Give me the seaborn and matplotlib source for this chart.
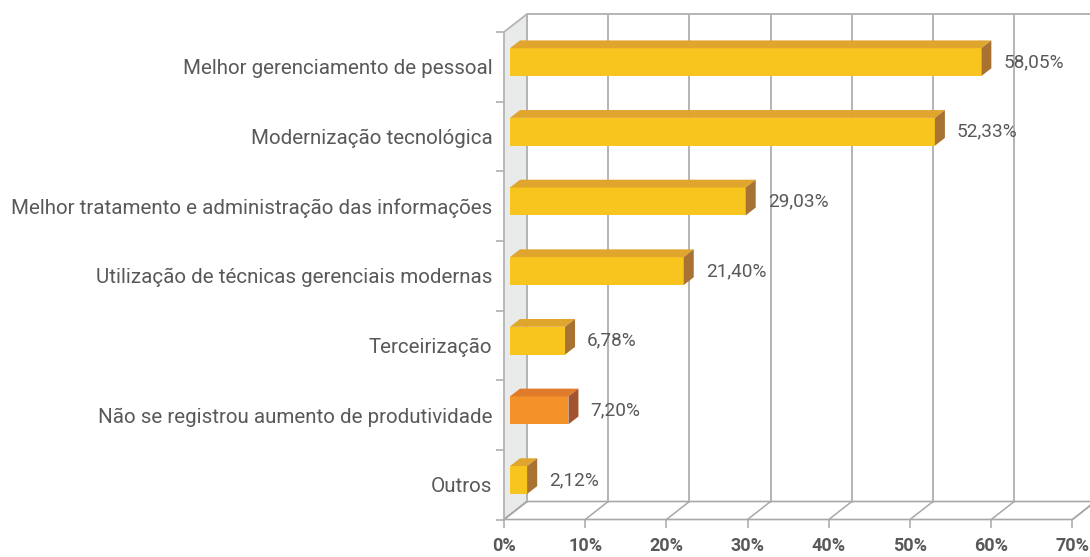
import matplotlib
matplotlib.use("Agg")
import matplotlib.pyplot as plt
import seaborn as sns
import pandas as pd
from matplotlib import font_manager
from matplotlib.patches import Polygon, Rectangle

# ---------------- data ----------------
categories = [
    "Melhor gerenciamento de pessoal",
    "Modernização tecnológica",
    "Melhor tratamento e administração das informações",
    "Utilização de técnicas gerenciais modernas",
    "Terceirização",
    "Não se registrou aumento de produtividade",
    "Outros",
]
values = [58.05, 52.33, 29.03, 21.40, 6.78, 7.20, 2.12]
value_labels = ["58,05%", "52,33%", "29,03%", "21,40%", "6,78%", "7,20%", "2,12%"]
x_ticks = [0, 10, 20, 30, 40, 50, 60, 70]
x_tick_labels = ["0%", "10%", "20%", "30%", "40%", "50%", "60%", "70%"]

# ---------------- style ----------------
sns.set_theme(style="white")
available = {f.name for f in font_manager.fontManager.ttflist}
family = "Liberation Sans Narrow" if "Liberation Sans Narrow" in available else "Roboto"
plt.rcParams["font.family"] = [family, "DejaVu Sans"]

front_col = ["#F8C51E"] * len(categories)
top_col = ["#DFA52D"] * len(categories)
side_col = ["#A87232"] * len(categories)
front_col[5], top_col[5], side_col[5] = "#F29229", "#E07B2C", "#A3542E"
text_col = "#59595B"
grid_col = "#B4B4B4"

W, H = 1090, 557
fig = plt.figure(figsize=(W / 100, H / 100), dpi=100)
fig.patch.set_facecolor("white")

# front plane of the 3D box (pixels): x 504..1072.4 (0..70), y 32..519.5
px_per_pct = 8.12
ax = fig.add_axes([504 / W, 37.5 / H, 70 * px_per_pct / W, 487.5 / H])
ax.set_facecolor("none")

df = pd.DataFrame({"cat": categories, "val": values})
sns.barplot(data=df, x="val", y="cat", hue="cat", palette=front_col,
            orient="h", width=0.40, legend=False, ax=ax, zorder=5,
            linewidth=0, saturation=1)
bar_patches = [p for p in ax.patches if isinstance(p, Rectangle)]
bar_patches = sorted(bar_patches, key=lambda p: p.get_y())

ax.set_xlim(0, 70)
ax.set_ylim(len(categories) - 0.5, -0.5)
for s in ax.spines.values():
    s.set_visible(False)

# depth of the box in data units
px_per_cat = 487.5 / len(categories)
DX = 23 / px_per_pct
DY = -18 / px_per_cat
y_bot, y_top = len(categories) - 0.5, -0.5

# left wall
ax.add_patch(Polygon([(0, y_bot), (0, y_top), (DX, y_top + DY), (DX, y_bot + DY)],
                     closed=True, facecolor="#E9EBEB", edgecolor=grid_col,
                     linewidth=1.3, clip_on=False, zorder=1))
# floor
ax.add_patch(Polygon([(0, y_bot), (70, y_bot), (70 + DX, y_bot + DY), (DX, y_bot + DY)],
                     closed=True, facecolor="white", edgecolor="#A8A8A8",
                     linewidth=1.2, clip_on=False, zorder=1))
# back wall grid + floor slants
for t in x_ticks:
    ax.plot([t + DX, t + DX], [y_bot + DY, y_top + DY], color=grid_col, lw=1.4,
            clip_on=False, zorder=1)
    ax.plot([t, t + DX], [y_bot, y_bot + DY], color="#A8A8A8", lw=1.1,
            clip_on=False, zorder=1)
ax.plot([DX, 70 + DX + 5], [y_top + DY, y_top + DY], color=grid_col, lw=1.4,
        clip_on=False, zorder=1)

# 3D bars: move front faces into the bar plane and add top & side faces
f0 = 0.26
bdx, bdy = 10 / px_per_pct, -7.8 / px_per_cat
for i, p in enumerate(bar_patches):
    p.set_x(p.get_x() + f0 * DX)
    p.set_y(p.get_y() + f0 * DY)
    p.set_clip_on(False)
    x0, x1 = p.get_x(), p.get_x() + p.get_width()
    yt, yb = p.get_y(), p.get_y() + p.get_height()
    ax.add_patch(Polygon([(x0, yt), (x1, yt), (x1 + bdx, yt + bdy), (x0 + bdx, yt + bdy)],
                         closed=True, facecolor=top_col[i], edgecolor="none",
                         clip_on=False, zorder=6))
    ax.add_patch(Polygon([(x1, yt), (x1, yb), (x1 + bdx, yb + bdy), (x1 + bdx, yt + bdy)],
                         closed=True, facecolor=side_col[i], edgecolor="none",
                         clip_on=False, zorder=6))
    ax.text(x1 + 2.7, (yt + yb) / 2, value_labels[i], ha="left", va="center",
            fontsize=13.7, color=text_col, zorder=7)

# axes ticks and labels
ax.set_xticks(x_ticks)
ax.set_xticklabels(x_tick_labels, fontsize=13, fontweight="bold", color=text_col)
ax.tick_params(axis="x", length=6, width=1.1, color="#A8A8A8", pad=6.5, bottom=True)
ax.set_yticks(range(len(categories)))
ax.set_yticklabels(categories, fontsize=14.8, color=text_col)
ax.tick_params(axis="y", which="major", length=0, pad=8.4)
ax.set_yticks([k - 0.5 for k in range(len(categories) + 1)], minor=True)
ax.tick_params(axis="y", which="minor", length=6, width=1.1, color="#A8A8A8", left=True)
ax.set_xlabel("")
ax.set_ylabel("")
ax.grid(False)

fig.savefig("out.png", dpi=100, facecolor="white")
